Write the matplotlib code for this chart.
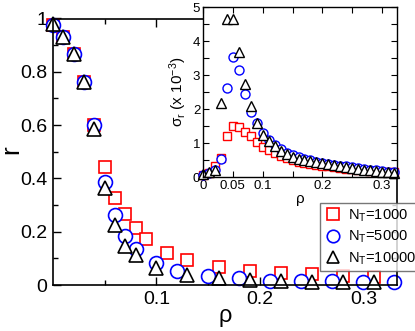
import matplotlib
matplotlib.use("Agg")
import matplotlib.pyplot as plt
from matplotlib.ticker import FixedLocator, MultipleLocator, FuncFormatter

plt.rcParams['font.family'] = ['Liberation Sans', 'DejaVu Sans']
plt.rcParams['mathtext.fontset'] = 'custom'
plt.rcParams['mathtext.rm'] = 'Liberation Sans'
plt.rcParams['mathtext.it'] = 'Liberation Sans:italic'

# ---------------- main panel data: r vs rho ----------------
rho_1000 = [0.0, 0.01, 0.02, 0.03, 0.04, 0.05, 0.06, 0.07, 0.08, 0.09, 0.11, 0.13,
            0.16, 0.19, 0.22, 0.25, 0.28, 0.31]
r_1000 = [0.975, 0.93, 0.867, 0.76, 0.60, 0.444, 0.328, 0.266, 0.214, 0.173, 0.121, 0.094,
          0.069, 0.054, 0.046, 0.040, 0.035, 0.031]

rho_5000 = [0.0, 0.01, 0.02, 0.03, 0.04, 0.05, 0.06, 0.07, 0.08, 0.10, 0.12, 0.15,
            0.18, 0.21, 0.24, 0.27, 0.30, 0.33]
r_5000 = [0.975, 0.93, 0.867, 0.76, 0.60, 0.388, 0.263, 0.184, 0.135, 0.081, 0.053, 0.035,
          0.025, 0.016, 0.016, 0.015, 0.013, 0.013]

rho_10000 = [0.0, 0.01, 0.02, 0.03, 0.04, 0.05, 0.06, 0.07, 0.08, 0.10, 0.13, 0.16,
             0.19, 0.22, 0.25, 0.28, 0.31]
r_10000 = [0.978, 0.93, 0.867, 0.76, 0.585, 0.364, 0.225, 0.146, 0.113, 0.062, 0.038, 0.028,
           0.019, 0.014, 0.013, 0.012, 0.012]

# ---------------- inset data: sigma_r (x 1e-3) vs rho ----------------
rho_in = [0.0, 0.01, 0.02, 0.03, 0.04, 0.05, 0.06, 0.07, 0.08, 0.09, 0.10, 0.11, 0.12,
          0.13, 0.14, 0.15, 0.16, 0.17, 0.18, 0.19, 0.20, 0.21, 0.22, 0.23, 0.24, 0.25,
          0.26, 0.27, 0.28, 0.29, 0.30, 0.31, 0.32]
sig_1000 = [0.05, 0.12, 0.32, 0.55, 1.2, 1.5, 1.48, 1.33, 1.2, 1.04, 0.89, 0.79, 0.70,
            0.62, 0.56, 0.50, 0.45, 0.41, 0.38, 0.35, 0.33, 0.31, 0.29, 0.27, 0.25, 0.23,
            0.21, 0.20, 0.18, 0.17, 0.16, 0.15, 0.14]
sig_5000 = [0.05, 0.13, 0.20, 0.52, 2.63, 3.52, 3.15, 2.43, 1.92, 1.58, 1.28, 1.10, 0.95,
            0.82, 0.72, 0.65, 0.58, 0.53, 0.49, 0.45, 0.42, 0.39, 0.36, 0.33, 0.31, 0.28,
            0.26, 0.24, 0.22, 0.20, 0.18, 0.16, 0.14]
sig_10000 = [0.09, 0.16, 0.22, 2.17, 4.65, 4.65, 3.69, 2.74, 2.09, 1.60, 1.24, 1.05, 0.90,
             0.76, 0.67, 0.60, 0.54, 0.50, 0.46, 0.43, 0.40, 0.37, 0.34, 0.31, 0.29, 0.26,
             0.24, 0.22, 0.20, 0.18, 0.16, 0.14, 0.12]

labels = [r'N$_\mathregular{T}$=1000', r'N$_\mathregular{T}$=5000', r'N$_\mathregular{T}$=10000']
colors = ['#ff0000', '#0000ff', '#000000']

fig = plt.figure(figsize=(4.15, 3.31), dpi=100)
ax = fig.add_axes([53/415, 1-285/331, (397-53)/415, (285-18.5)/331])

mk = dict(linestyle='none', markerfacecolor='white', clip_on=False, markeredgewidth=1.2)
h1, = ax.plot(rho_1000, r_1000, marker='s', markersize=8.5, color=colors[0], label=labels[0], **mk)
h2, = ax.plot(rho_5000, r_5000, marker='o', markersize=10, color=colors[1], label=labels[1], **mk)
h3, = ax.plot(rho_10000, r_10000, marker='^', markersize=10, color=colors[2], label=labels[2], **mk)

ax.set_xlim(0, 0.3325)
ax.set_ylim(0, 1)
ax.xaxis.set_major_locator(FixedLocator([0.1, 0.2, 0.3]))
ax.xaxis.set_minor_locator(FixedLocator([0.05, 0.15, 0.25]))
ax.yaxis.set_major_locator(MultipleLocator(0.2))
ax.yaxis.set_minor_locator(MultipleLocator(0.1))
fmt = FuncFormatter(lambda v, p: ('%g' % round(v, 3)))
ax.xaxis.set_major_formatter(fmt)
ax.yaxis.set_major_formatter(fmt)
ax.tick_params(which='both', direction='in', top=True, right=True, width=1.0)
ax.tick_params(which='major', length=6, labelsize=14, pad=4)
ax.tick_params(which='minor', length=3.5)
for s in ax.spines.values():
    s.set_linewidth(1.2)
ax.set_xlabel('ρ', fontsize=17)
ax.set_ylabel('r', fontsize=19)
ax.xaxis.set_label_coords(172/344, -(316-285)/266.5, transform=ax.transAxes)
ax.yaxis.set_label_coords(-(53-11)/344, (285-150)/266.5, transform=ax.transAxes)
ax.xaxis.label.set_va('center')
ax.yaxis.label.set_va('center')

leg = fig.legend(handles=[h1, h2, h3], loc='upper left',
                 bbox_to_anchor=(320/415, 1-203/331), fontsize=10.5,
                 frameon=True, fancybox=False, edgecolor='#555555',
                 handletextpad=0.4, borderpad=0.3, labelspacing=0.35,
                 handlelength=1.2, borderaxespad=0)
leg.get_frame().set_linewidth(1.0)
for h in leg.legend_handles:
    h.set_markersize(9)

# ---------------- inset ----------------
ins = fig.add_axes([203/415, 1-177/331, (397-203)/415, (177-7)/331])
mi = dict(linestyle='none', markerfacecolor='white', clip_on=False, markeredgewidth=1.0)
ins.plot(rho_in, sig_1000, marker='s', markersize=5.5, color=colors[0], **mi)
ins.plot(rho_in, sig_5000, marker='o', markersize=6.5, color=colors[1], **mi)
ins.plot(rho_in, sig_10000, marker='^', markersize=6.5, color=colors[2], **mi)
ins.set_xlim(0, 0.325)
ins.set_ylim(0, 5)
ins.xaxis.set_major_locator(FixedLocator([0, 0.05, 0.1, 0.2, 0.3]))
ins.xaxis.set_minor_locator(FixedLocator([0.15, 0.25]))
ins.yaxis.set_major_locator(MultipleLocator(1))
ins.yaxis.set_minor_locator(MultipleLocator(0.5))
ins.xaxis.set_major_formatter(fmt)
ins.yaxis.set_major_formatter(fmt)
ins.tick_params(which='both', direction='in', top=True, right=True, width=0.8)
ins.tick_params(which='major', length=4, labelsize=9.5, pad=2)
ins.tick_params(which='minor', length=4)
for s in ins.spines.values():
    s.set_linewidth(1.0)
ins.set_xlabel('ρ', fontsize=11, labelpad=0)
ins.set_ylabel(r'σ$_\mathregular{r}$ (x 10$^{\mathregular{-3}}$)', fontsize=11, labelpad=3)

fig.savefig('out.png', dpi=100)
